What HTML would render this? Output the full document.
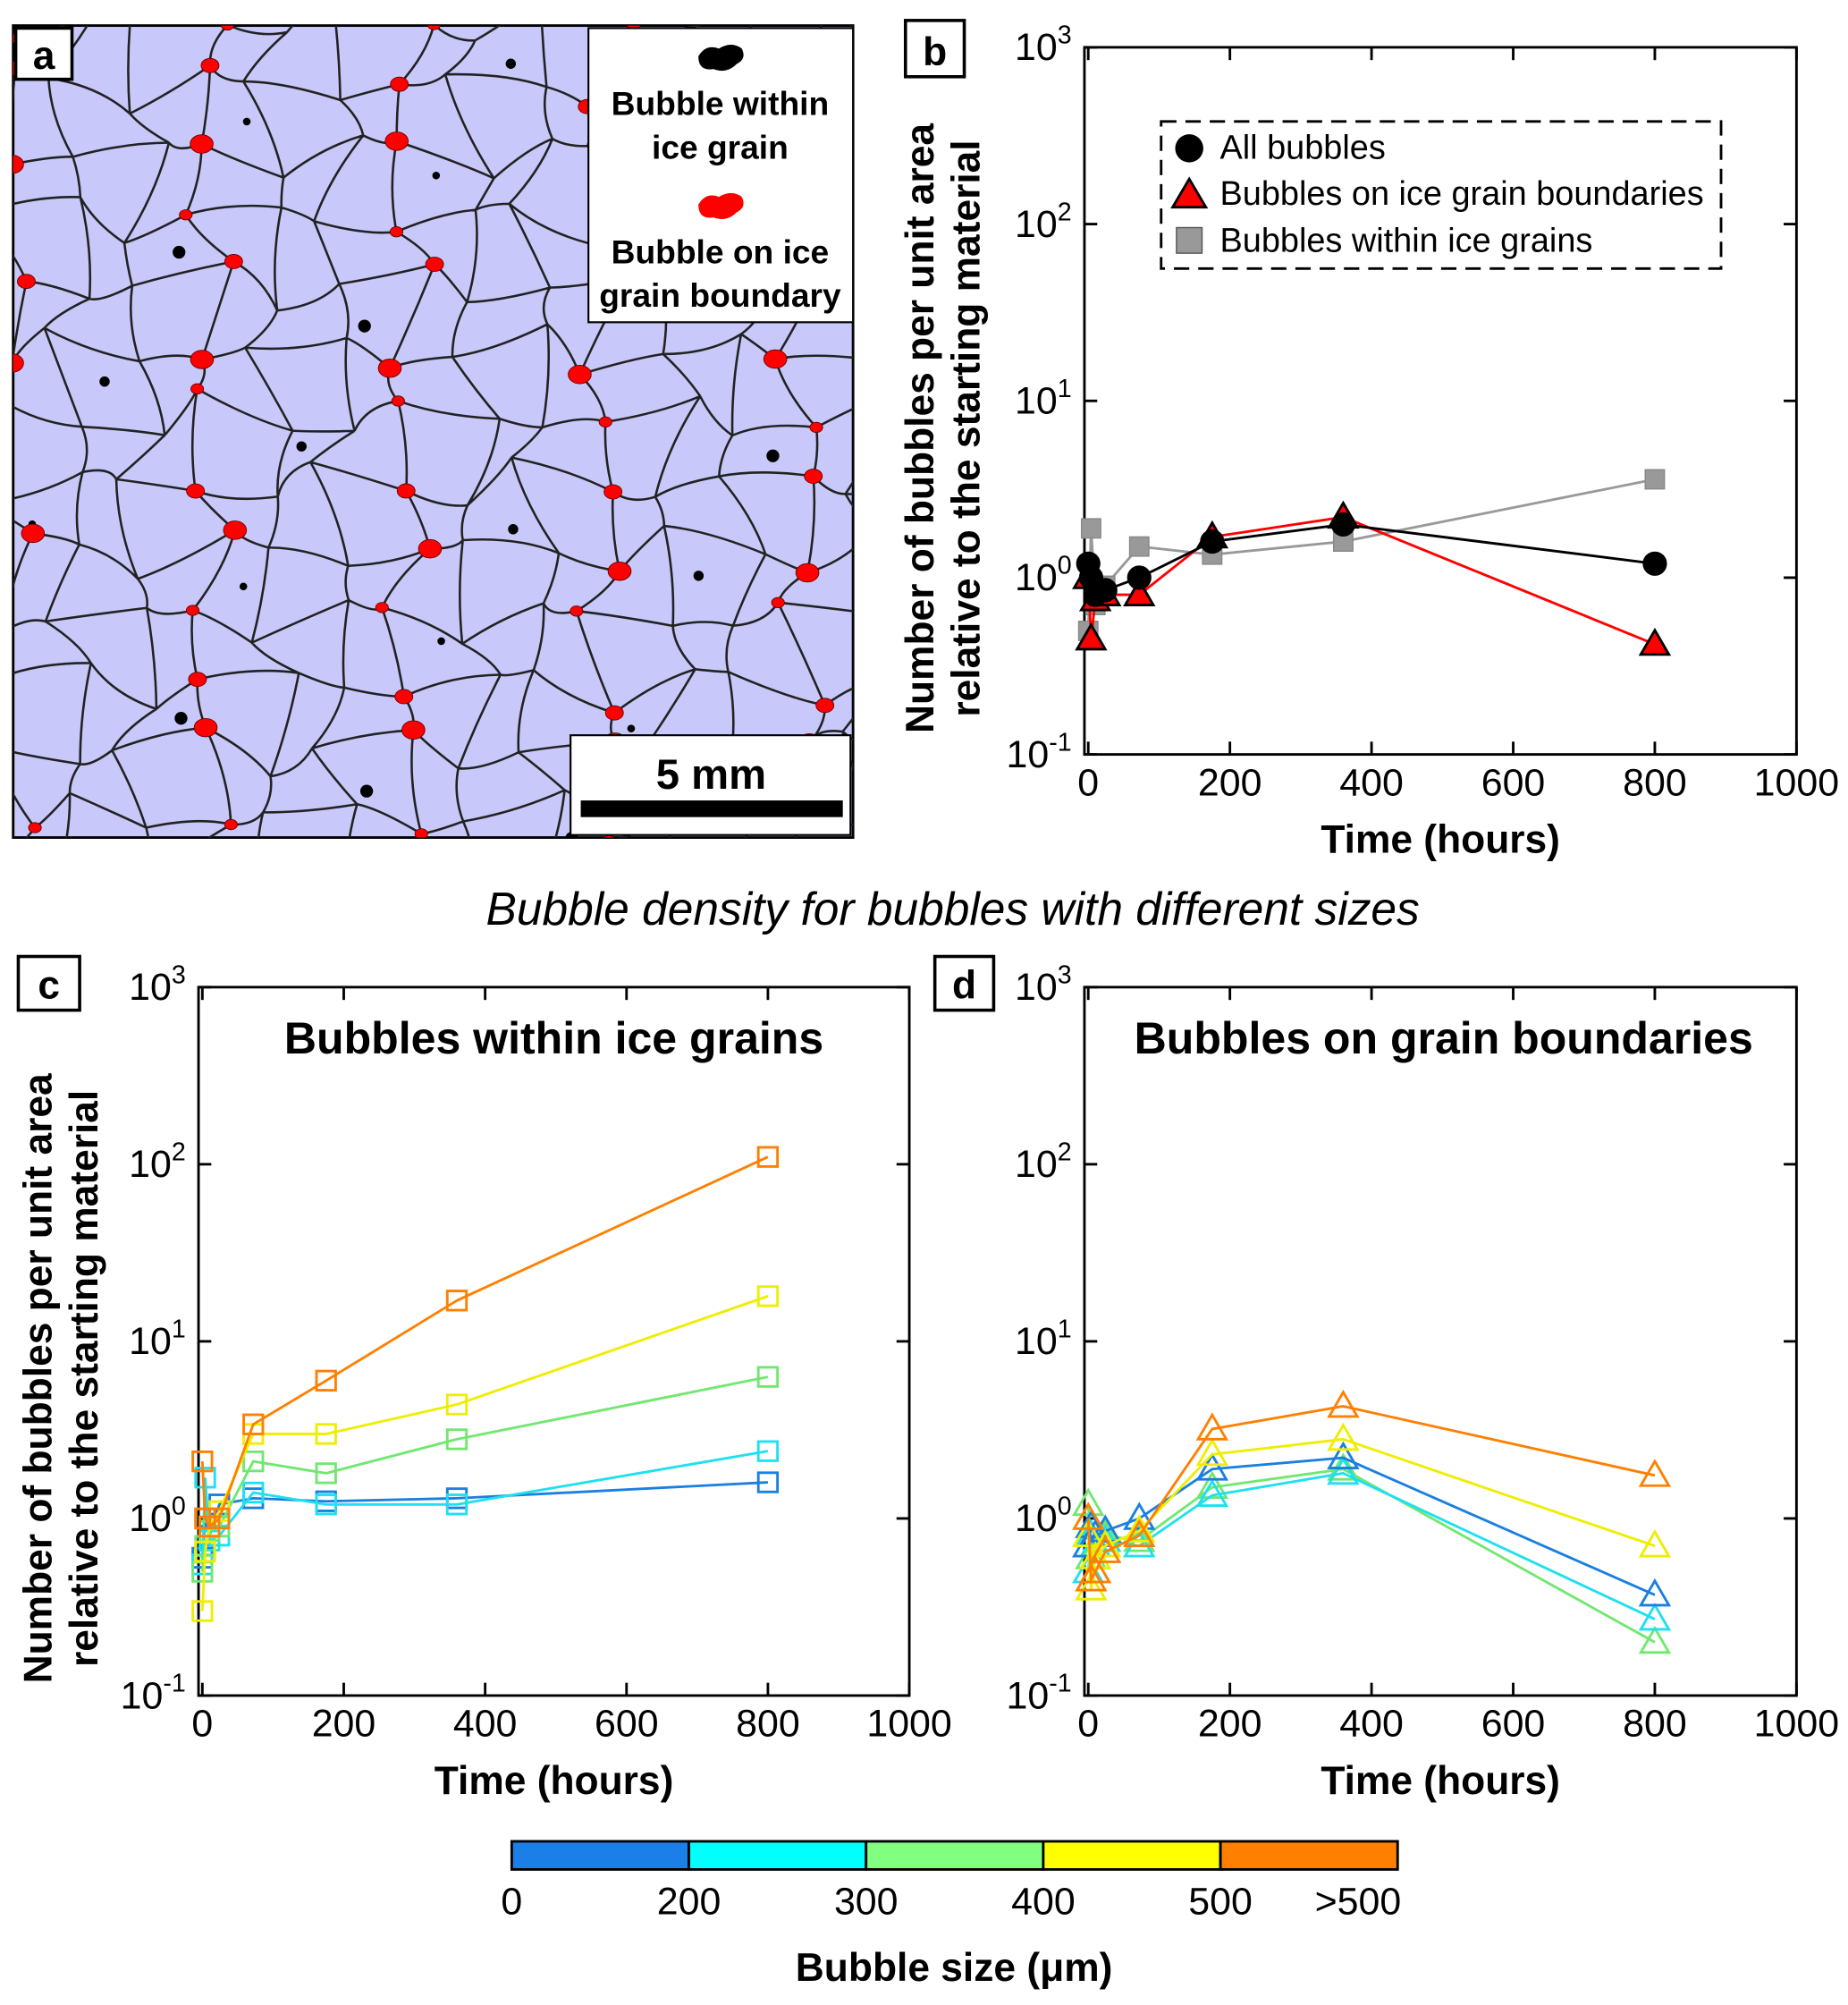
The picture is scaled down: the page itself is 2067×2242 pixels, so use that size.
<!DOCTYPE html>
<html><head><meta charset="utf-8"><style>
html,body{margin:0;padding:0;background:#fff}
svg{display:block}
text{font-family:"Liberation Sans",Arial,sans-serif}
</style></head><body>
<svg id="s" width="2067" height="2242" viewBox="0 0 1445 1568" xmlns="http://www.w3.org/2000/svg">
<defs><clipPath id="clipA"><rect x="10" y="20" width="657" height="635"/></clipPath></defs>
<g id="panelA">
<rect x="10" y="20" width="657" height="635" fill="#c8c8fa" stroke="#000" stroke-width="2"/>
<g id="grains" clip-path="url(#clipA)"></g>
<rect x="460" y="22" width="207" height="230" fill="#fff" stroke="#000" stroke-width="1.5"/>
<path d="M546,44 q6,-10 16,-6 q10,-6 18,0 q4,8 -4,12 q-8,8 -18,4 q-12,2 -12,-10z" fill="#000"/>
<text x="563" y="90" font-size="26" font-weight="bold" text-anchor="middle">Bubble within</text>
<text x="563" y="124" font-size="26" font-weight="bold" text-anchor="middle">ice grain</text>
<path d="M546,160 q6,-10 16,-6 q10,-6 18,0 q4,8 -4,12 q-8,8 -18,4 q-12,2 -12,-10z" fill="#f00"/>
<text x="563" y="206" font-size="26" font-weight="bold" text-anchor="middle">Bubble on ice</text>
<text x="563" y="240" font-size="26" font-weight="bold" text-anchor="middle">grain boundary</text>
<rect x="446" y="575" width="219" height="78" fill="#fff" stroke="#000" stroke-width="1.5"/>
<text x="556" y="617" font-size="33" font-weight="bold" text-anchor="middle">5 mm</text>
<rect x="454" y="626" width="205" height="13" fill="#000"/>
<rect x="12" y="22" width="44" height="40" fill="#fff" stroke="#000" stroke-width="2.5"/>
<text x="34" y="54" font-size="31" font-weight="bold" text-anchor="middle">a</text>
</g>
<g id="charts"></g>
<text x="745" y="723" font-size="36" font-style="italic" text-anchor="middle">Bubble density for bubbles with different sizes</text>
<g id="cbar"></g>
<text x="746" y="1549" font-size="31" font-weight="bold" text-anchor="middle">Bubble size (μm)</text>
</svg>
<script>
const NS="http://www.w3.org/2000/svg";
function mk(tag,attrs,parent){const e=document.createElementNS(NS,tag);for(const k in attrs)e.setAttribute(k,attrs[k]);parent.appendChild(e);return e;}

// ---------- panel a texture (image, not data) ----------
const G=document.getElementById('grains');
const pts=[];const sp=52;const NI=15,NJ=14;
for(let i=0;i<NI;i++){pts.push([]);for(let j=0;j<NJ;j++){
 const x=5+i*sp+15*Math.sin(i*2.3+j*1.7)+8*Math.cos(j*3.1);
 const y=15+j*sp+15*Math.cos(i*1.9+j*2.7)+8*Math.sin(i*3.7);
 pts[i].push([x,y]);}}
let d='';
for(let i=0;i<NI;i++)for(let j=0;j<NJ;j++){
 const p=pts[i][j];
 if(i<NI-1){const q=pts[i+1][j];const mx=(p[0]+q[0])/2+8*Math.sin(i+j),my=(p[1]+q[1])/2+8*Math.cos(i*2+j);d+=`M${p[0]},${p[1]}Q${mx},${my} ${q[0]},${q[1]}`;}
 if(j<NJ-1){const q=pts[i][j+1];const mx=(p[0]+q[0])/2+8*Math.cos(i+j*2),my=(p[1]+q[1])/2;d+=`M${p[0]},${p[1]}Q${mx},${my} ${q[0]},${q[1]}`;}
}
const gp=mk('path',{d:d,fill:'none',stroke:'#222','stroke-width':1.8},G);


for(let i=0;i<NI;i++)for(let j=0;j<NJ;j++){
 const p=pts[i][j];
 if((i*7+j*3)%3==0){const r=5+((i+j)%3)*2;const c=mk('ellipse',{cx:p[0],cy:p[1],rx:r,ry:r*0.8,fill:'#f00',stroke:'#600','stroke-width':0.6},G);
  }
 if((i*3+j*5)%7==0&&i<NI-1&&j<NJ-1){const q=pts[i+1][j+1];const c=mk('circle',{cx:(p[0]+q[0])/2,cy:(p[1]+q[1])/2,r:3+(i%3),fill:'#000'},G);
  }
}

// ---------- chart data ----------
const times=[0,4,10,24,72,175,360,800];
const allBubbles=[1.2,1.0,0.8,0.85,1.0,1.6,2.0,1.2];
const boundaryBubbles=[1.0,0.45,0.75,0.8,0.8,1.7,2.2,0.42];
const withinBubbles=[0.5,1.9,0.7,0.9,1.5,1.35,1.6,3.6];
const cOrange=[2.1,1.0,0.9,1.0,3.4,6.0,17,110];
const cYellow=[0.3,0.65,0.9,1.1,3.0,3.0,4.4,18];
const cGreen=[0.5,0.7,0.85,0.9,2.1,1.8,2.8,6.3];
const cCyan=[0.55,1.7,0.75,0.8,1.4,1.2,1.2,2.4];
const cBlue=[0.6,1.0,0.8,1.2,1.3,1.25,1.3,1.6];
const dOrange=[1.0,0.45,0.5,0.65,0.8,3.2,4.3,1.75];
const dYellow=[0.8,0.4,0.6,0.7,0.85,2.3,2.8,0.7];
const dGreen=[1.2,0.6,0.7,0.8,0.75,1.5,1.9,0.2];
const dCyan=[0.5,0.8,0.7,0.75,0.7,1.35,1.8,0.27];
const dBlue=[0.7,0.9,0.8,0.85,1.0,1.9,2.2,0.37];
const xTicks=[0,200,400,600,800,1000];
const yExps=[-1,0,1,2,3];
const sizeLabels=['0','200','300','400','500','>500'];
const sizeColors=['#1a80e8','#00ffff','#80ff80','#ffff00','#ff8000'];
const lineColors=['#1a7fe0','#1ee0f0','#70e870','#eeee00','#ff8000'];

const C=document.getElementById('charts');
function axes(name,L,R,T,B){
 const g=mk('g',{},C);
 const sx=v=>L+3+(v/1000)*(R-L-3);
 const sy=v=>B-(Math.log10(v)+1)/4*(B-T);
 mk('rect',{x:L,y:T,width:R-L,height:B-T,fill:'none',stroke:'#000','stroke-width':2},g);
 xTicks.forEach(t=>{const x=sx(t);
  mk('line',{x1:x,x2:x,y1:B,y2:B-10,stroke:'#000','stroke-width':2},g);
  mk('line',{x1:x,x2:x,y1:T,y2:T+10,stroke:'#000','stroke-width':2},g);
  const tx=mk('text',{x:x,y:B+32,'font-size':30,'text-anchor':'middle'},g);tx.textContent=t;
  });
 yExps.forEach(e=>{const y=sy(Math.pow(10,e));
  mk('line',{x1:L,x2:L+10,y1:y,y2:y,stroke:'#000','stroke-width':2},g);
  mk('line',{x1:R,x2:R-10,y1:y,y2:y,stroke:'#000','stroke-width':2},g);
  const tx=mk('text',{x:L-10,y:y+10,'font-size':30,'text-anchor':'end'},g);
  
  tx.appendChild(document.createTextNode('10'));
  const ts=mk('tspan',{'font-size':20,dy:-13},tx);ts.textContent=e;});
 const xt=mk('text',{x:(L+R)/2,y:B+77,'font-size':31,'font-weight':'bold','text-anchor':'middle'},g);
 xt.textContent='Time (hours)';
 return {g,sx,sy};
}
function series(ax,vals,color,marker,fill,name,lc){
 const g=mk('g',{},ax.g);
 mk('polyline',{points:times.map((t,i)=>ax.sx(t)+','+ax.sy(vals[i])).join(' '),fill:'none',stroke:lc||color,'stroke-width':2},g);
 times.forEach((t,i)=>{const x=ax.sx(t),y=ax.sy(vals[i]);let m;
  if(marker=='c')m=mk('circle',{cx:x,cy:y,r:9,fill:fill,stroke:'#000','stroke-width':1},g);
  else if(marker=='s')m=mk('rect',{x:x-7.5,y:y-7.5,width:15,height:15,fill:fill,stroke:color,'stroke-width':fill=='none'?2:1},g);
  else m=mk('polygon',{points:`${x},${y-11} ${x+11},${y+8} ${x-11},${y+8}`,fill:fill,stroke:color,'stroke-width':2},g);
  });
}
function ylabel(x,cy,lines){const t=mk('text',{'font-size':31,'font-weight':'bold','text-anchor':'middle',transform:`translate(${x},${cy}) rotate(-90)`},C);
 
 lines.forEach((l,i)=>{const ts=mk('tspan',{x:0,dy:i?36:0},t);ts.textContent=l;});}
function plabel(x,y,w,h,s){const r=mk('rect',{x,y,width:w,height:h,fill:'#fff',stroke:'#000','stroke-width':2.5},C);
 
 const t=mk('text',{x:x+w/2,y:y+h-9,'font-size':31,'font-weight':'bold','text-anchor':'middle'},C);t.textContent=s;
 }

// panel b
const b=axes('panel-b-chart',848,1405,37,590);
series(b,withinBubbles,'#888','s','#999','series-within-grains','#999');
series(b,boundaryBubbles,'#000','t','#f00','series-grain-boundaries','#f00');
series(b,allBubbles,'#000','c','#000','series-all-bubbles','#000');
ylabel(730,335,['Number of bubbles per unit area','relative to the starting material']);
const lg=mk('g',{},C);
mk('rect',{x:908,y:95,width:438,height:115,fill:'#fff',stroke:'#000','stroke-width':2,'stroke-dasharray':'12,7'},lg);
mk('circle',{cx:930,cy:116,r:11,fill:'#000'},lg);
mk('polygon',{points:'930,140 943,162 917,162',fill:'#f00',stroke:'#000','stroke-width':2},lg);
mk('rect',{x:920,y:178,width:20,height:20,fill:'#999',stroke:'#555','stroke-width':1},lg);
[['All bubbles',124],['Bubbles on ice grain boundaries',160],['Bubbles within ice grains',197]].forEach(a=>{const t=mk('text',{x:954,y:a[1],'font-size':26.5},lg);t.textContent=a[0];
 });
plabel(708,16,46,44,'b');

// panel c
const c=axes('panel-c-chart',155,711,772,1326);
[cBlue,cCyan,cGreen,cYellow,cOrange].forEach((v,i)=>series(c,v,lineColors[i],'s','none','series-size-'+i));
ylabel(40,1078,['Number of bubbles per unit area','relative to the starting material']);
let t1=mk('text',{x:433,y:824,'font-size':35,'font-weight':'bold','text-anchor':'middle'},C);t1.textContent='Bubbles within ice grains';

plabel(14,748,48,42,'c');

// panel d
const dd=axes('panel-d-chart',848,1405,772,1326);
[dGreen,dCyan,dBlue,dYellow,dOrange].forEach((v,i)=>{const idx=[2,1,0,3,4][i];series(dd,v,lineColors[idx],'t','none','series-size-'+idx);});
let t2=mk('text',{x:1129,y:824,'font-size':35,'font-weight':'bold','text-anchor':'middle'},C);t2.textContent='Bubbles on grain boundaries';

plabel(731,748,46,42,'d');

// colorbar
const CB=document.getElementById('cbar');
const cbL=400,cbR=1093,w=(cbR-cbL)/5;
sizeColors.forEach((col,i)=>{const r=mk('rect',{x:cbL+i*w,y:1440,width:w,height:22,fill:col,stroke:'#000','stroke-width':2},CB);
 });
sizeLabels.forEach((s,i)=>{const t=mk('text',{x:i==5?1062:cbL+i*w,y:1497,'font-size':30,'text-anchor':'middle'},CB);t.textContent=s;
 });
</script>
</body></html>
